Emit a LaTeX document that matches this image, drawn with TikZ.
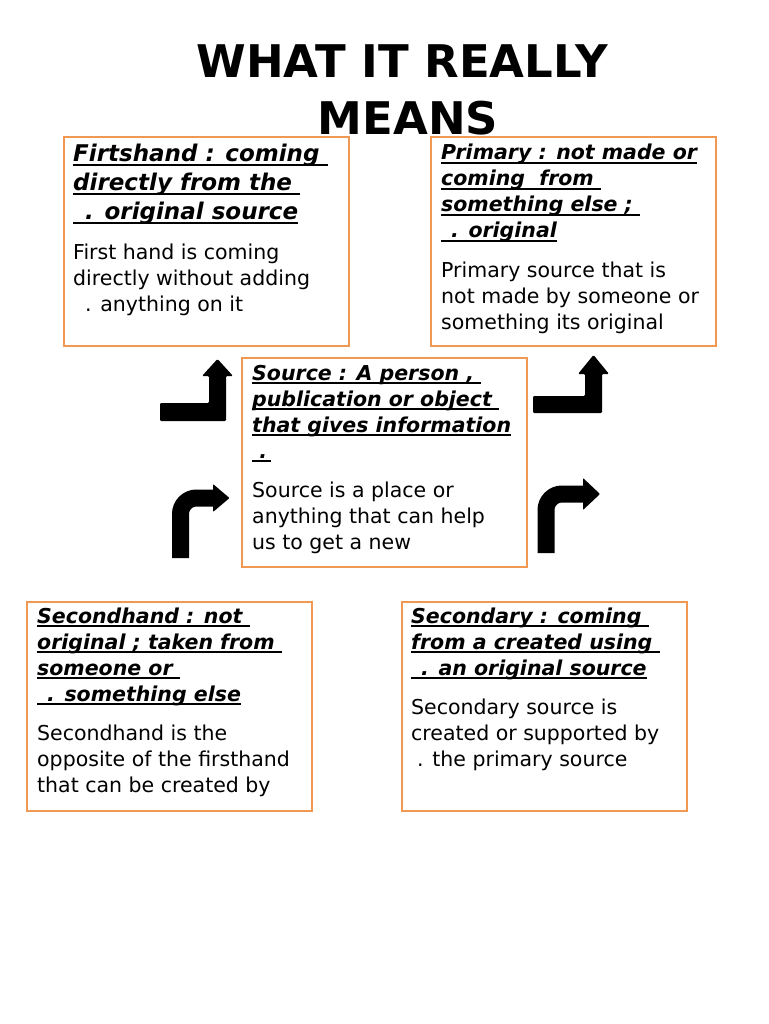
\documentclass[tikz,border=0pt]{standalone}
\usepackage{fontspec}
\setmainfont{DejaVu Sans}
\definecolor{boxorange}{RGB}{241,153,82}
\newcommand\hl[1]{\hbox{\setbox0\hbox{#1}\rlap{\rule[-4.2pt]{\wd0}{1.8pt}}\box0}}
\newcommand\bl[1]{\hbox{#1}}
\begin{document}
\begin{tikzpicture}[x=1pt,y=-1pt,
  box/.style={draw=boxorange, line width=2.4pt, rectangle, inner sep=0pt, anchor=north west, minimum width=285pt, minimum height=209pt},
  head/.style={anchor=base west, inner sep=0pt, font=\fontsize{20.5}{26}\selectfont\bfseries\itshape},
  bighead/.style={anchor=base west, inner sep=0pt, font=\fontsize{23}{29}\selectfont\bfseries\itshape},
  body/.style={anchor=base west, inner sep=0pt, font=\fontsize{20.5}{26}\selectfont},
  title/.style={anchor=base, inner sep=0pt, font=\fontsize{45}{57}\selectfont\bfseries},
  barrow/.style={fill=black, rounded corners=1.2pt},
  carrow/.style={draw=black, line width=17pt, rounded corners=16pt},
  chead/.style={fill=black, rounded corners=0.8pt}]
\useasboundingbox (0,0) rectangle (768,1024);

% title
\node[title] (t1) at (402,78) {WHAT IT REALLY};
\node[title] (t2) at (408,135) {MEANS};

% boxes
\node[box] (firstbox) at (63,136) {};
\node[box] (primbox) at (430,136) {};
\node[box] (srcbox) at (241,357) {};
\node[box] (secbox) at (26,601) {};
\node[box] (sdybox) at (401,601) {};

% Firsthand
\node[bighead] (fhh) at (73,162) {\vtop{\hl{Firtshand : coming\ }\hl{directly from the\ }\hl{\hspace*{12pt}. original source}}};
\node[body] (fhb) at (73,259) {\vtop{\bl{First hand is coming}\bl{directly without adding}\bl{\hspace*{12pt}. anything on it}}};

% Primary
\node[head] (prh) at (441,160) {\vtop{\hl{Primary : not made or}\hl{coming\ \ from\ }\hl{something else ;\ }\hl{\hspace*{10pt}. original}}};
\node[body] (prb) at (441,277) {\vtop{\bl{Primary source that is}\bl{not made by someone or}\bl{something its original}}};

% Source
\node[head] (srh) at (252,380) {\vtop{\hl{Source : A person ,\ }\hl{publication or object\ }\hl{that gives information}\hl{\ .\,}}};
\node[body] (srb) at (252,497) {\vtop{\bl{Source is a place or}\bl{anything that can help}\bl{us to get a new}}};

% Secondhand
\node[head] (shh) at (37,623) {\vtop{\hl{Secondhand : not\ }\hl{original ; taken from\ }\hl{someone or\ }\hl{\hspace*{10pt}. something else}}};
\node[body] (shb) at (37,740) {\vtop{\bl{Secondhand is the}\bl{opposite of the firsthand}\bl{that can be created by}}};

% Secondary
\node[head] (sdh) at (411,623) {\vtop{\hl{Secondary : coming\ }\hl{from a created using\ }\hl{\hspace*{10pt}. an original source}}};
\node[body] (sdb) at (411,714) {\vtop{\bl{Secondary source is}\bl{created or supported by}\bl{\hspace*{6pt}. the primary source}}};

% L-shaped arrows
\fill[barrow] (160,403) -- (209,403) -- (209,376) -- (202,376) -- (217.5,359) -- (233,376) -- (226,376) -- (226,421) -- (160,421) -- cycle;
\fill[barrow] (533,396) -- (585,396) -- (585,374) -- (578,374) -- (593.5,355) -- (609,374) -- (602,374) -- (602,413) -- (533,413) -- cycle;

% curved arrows
\draw[carrow] (180.5,558) -- (180.5,498) -- (214,498);
\fill[chead] (213,484) -- (229.5,498) -- (213,512) -- cycle;
\draw[carrow] (546,553) -- (546,494) -- (584,494);
\fill[chead] (583,478) -- (600,494) -- (583,510) -- cycle;
\end{tikzpicture}
\end{document}
